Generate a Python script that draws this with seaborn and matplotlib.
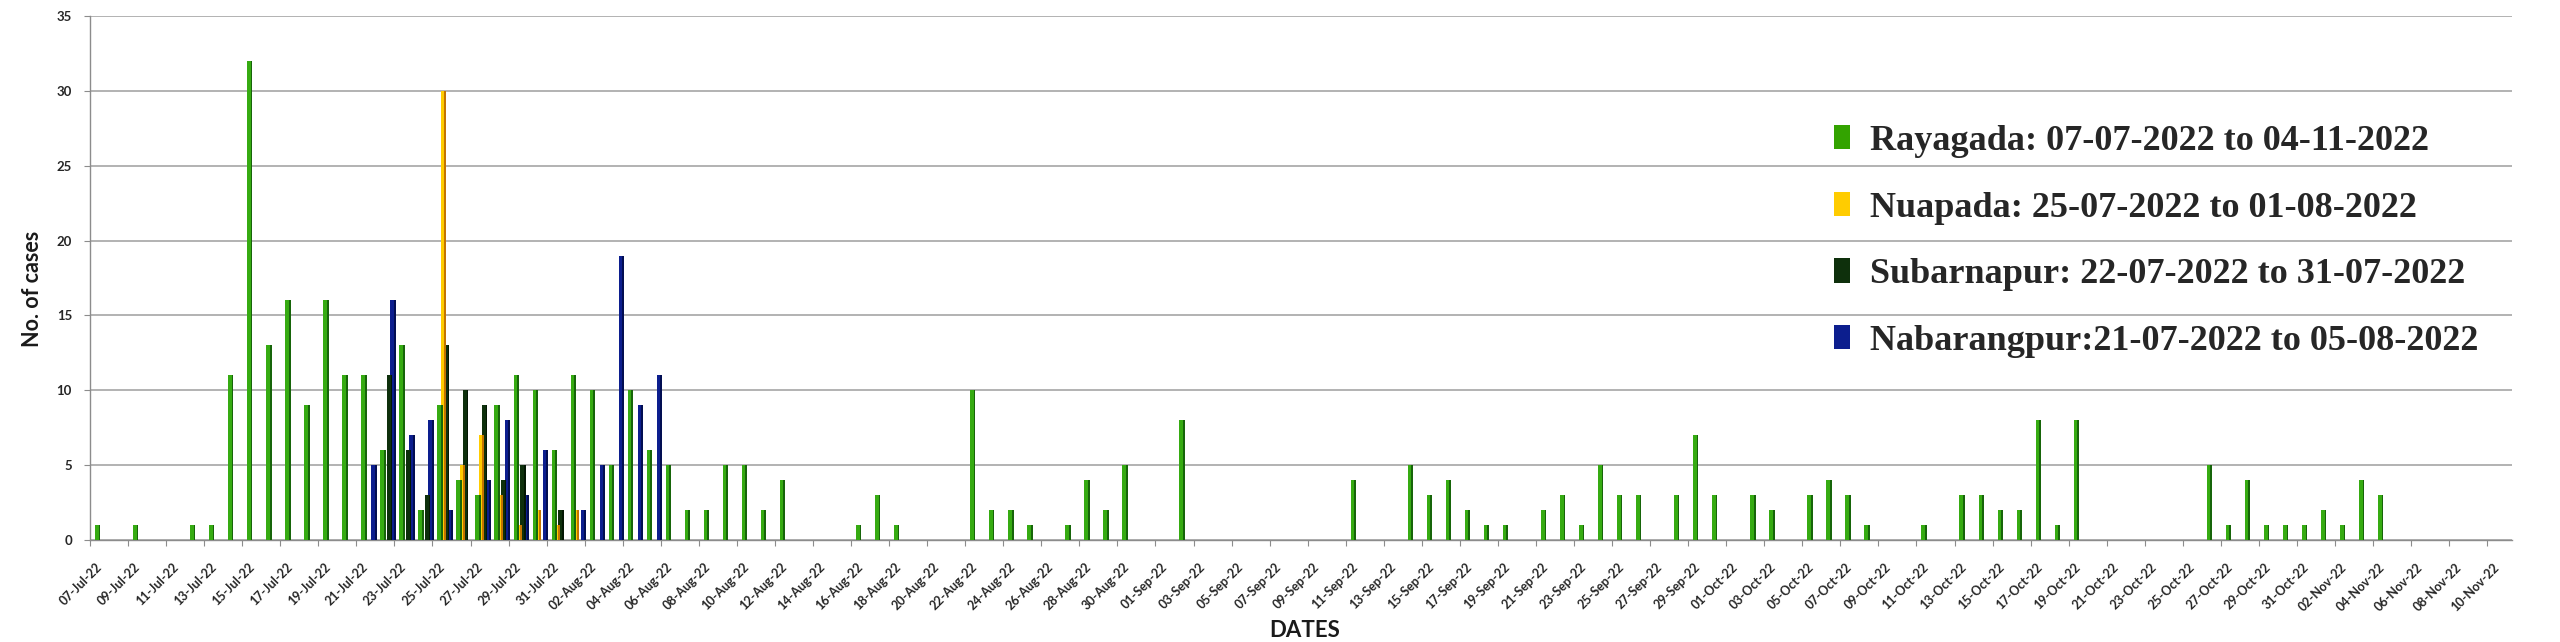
"""Daily case counts by district, Jul-Nov 2022 (grouped 3D-look bars)."""
import numpy as np
import pandas as pd
import matplotlib
matplotlib.use('Agg')
import matplotlib.pyplot as plt
import seaborn as sns
from matplotlib.patches import Patch
from matplotlib.transforms import ScaledTranslation

# Data
rayagada_dates = ['07-Jul-22', '09-Jul-22', '12-Jul-22', '13-Jul-22', '14-Jul-22', '15-Jul-22',
                  '16-Jul-22', '17-Jul-22', '18-Jul-22', '19-Jul-22', '20-Jul-22', '21-Jul-22',
                  '22-Jul-22', '23-Jul-22', '24-Jul-22', '25-Jul-22', '26-Jul-22', '27-Jul-22',
                  '28-Jul-22', '29-Jul-22', '30-Jul-22', '31-Jul-22',
                  '01-Aug-22', '02-Aug-22', '03-Aug-22', '04-Aug-22', '05-Aug-22', '06-Aug-22',
                  '07-Aug-22', '08-Aug-22', '09-Aug-22', '10-Aug-22', '11-Aug-22', '12-Aug-22',
                  '16-Aug-22', '17-Aug-22', '18-Aug-22', '22-Aug-22', '23-Aug-22', '24-Aug-22',
                  '25-Aug-22', '27-Aug-22', '28-Aug-22', '29-Aug-22', '30-Aug-22',
                  '02-Sep-22', '11-Sep-22', '14-Sep-22', '15-Sep-22', '16-Sep-22', '17-Sep-22',
                  '18-Sep-22', '19-Sep-22', '21-Sep-22', '22-Sep-22', '23-Sep-22', '24-Sep-22',
                  '25-Sep-22', '26-Sep-22', '28-Sep-22', '29-Sep-22', '30-Sep-22',
                  '02-Oct-22', '03-Oct-22', '05-Oct-22', '06-Oct-22', '07-Oct-22', '08-Oct-22',
                  '11-Oct-22', '13-Oct-22', '14-Oct-22', '15-Oct-22', '16-Oct-22', '17-Oct-22',
                  '18-Oct-22', '19-Oct-22', '26-Oct-22', '27-Oct-22', '28-Oct-22', '29-Oct-22',
                  '30-Oct-22', '31-Oct-22',
                  '01-Nov-22', '02-Nov-22', '03-Nov-22', '04-Nov-22']
rayagada_cases = [1, 1, 1, 1, 11, 32, 13, 16, 9, 16, 11, 11, 6, 13, 2, 9, 4, 3, 9, 11, 10, 6,
                  11, 10, 5, 10, 6, 5, 2, 2, 5, 5, 2, 4, 1, 3, 1, 10, 2, 2, 1, 1, 4, 2, 5,
                  8, 4, 5, 3, 4, 2, 1, 1, 2, 3, 1, 5, 3, 3, 3, 7, 3,
                  3, 2, 3, 4, 3, 1, 1, 3, 3, 2, 2, 8, 1, 8, 5, 1, 4, 1, 1, 1,
                  2, 1, 4, 3]

nuapada_dates = ['25-Jul-22', '26-Jul-22', '27-Jul-22', '28-Jul-22', '29-Jul-22', '30-Jul-22',
                 '31-Jul-22', '01-Aug-22']
nuapada_cases = [30, 5, 7, 3, 1, 2, 1, 2]

subarnapur_dates = ['22-Jul-22', '23-Jul-22', '24-Jul-22', '25-Jul-22', '26-Jul-22', '27-Jul-22',
                    '28-Jul-22', '29-Jul-22', '30-Jul-22', '31-Jul-22']
subarnapur_cases = [11, 6, 3, 13, 10, 9, 4, 5, 0, 2]

nabarangpur_dates = ['21-Jul-22', '22-Jul-22', '23-Jul-22', '24-Jul-22', '25-Jul-22', '26-Jul-22',
                     '27-Jul-22', '28-Jul-22', '29-Jul-22', '30-Jul-22', '31-Jul-22', '01-Aug-22',
                     '02-Aug-22', '03-Aug-22', '04-Aug-22', '05-Aug-22']
nabarangpur_cases = [5, 16, 7, 8, 2, 0, 4, 8, 3, 6, 0, 2, 5, 19, 9, 11]

labels = ['Rayagada: 07-07-2022 to 04-11-2022',
          'Nuapada: 25-07-2022 to 01-08-2022',
          'Subarnapur: 22-07-2022 to 31-07-2022',
          'Nabarangpur:21-07-2022 to 05-08-2022']

start = pd.Timestamp('2022-07-07')
all_days = pd.date_range(start, '2022-11-10', freq='D')

# front colour, side colour, position inside the day slot
styles = [('#36AB12', '#17650A', 0.40),
          ('#FFCC00', '#C47400', 0.57),
          ('#0E300C', '#031703', 0.75),
          ('#0C1E8E', '#020E52', 0.93)]


def draw_series(ax, dates, cases, front, side, offset, z):
    """Draw one district as bars with a darker side face."""
    days = (pd.to_datetime(dates, format='%d-%b-%y') - start).days.to_numpy()
    x = days + offset
    ax.bar(x - 0.045, cases, width=0.19, color=front, linewidth=0, zorder=z)
    ax.bar(x + 0.095, cases, width=0.09, color=side, linewidth=0, zorder=z)


sns.set_theme(style='white')
plt.rcParams['font.family'] = ['Lato', 'DejaVu Sans']

fig = plt.figure(figsize=(25.6, 6.42), dpi=100)
ax = fig.add_axes([90 / 2560, 1 - 540 / 642, 2422 / 2560, 524 / 642])

all_data = [(rayagada_dates, rayagada_cases), (nuapada_dates, nuapada_cases),
            (subarnapur_dates, subarnapur_cases), (nabarangpur_dates, nabarangpur_cases)]
for i, ((dates, cases), (front, side, offset)) in enumerate(zip(all_data, styles)):
    draw_series(ax, dates, cases, front, side, offset, z=10 - i)

ax.set_xlim(0, 127.3)
ax.set_ylim(0, 35)
ax.set_yticks(np.arange(0, 36, 5))
ax.yaxis.grid(True, color='#9E9E9E', linewidth=1.1)
ax.set_axisbelow(True)

ticks = np.arange(0, len(all_days), 2)
ax.set_xticks(ticks)
ax.set_xticklabels(all_days[::2].strftime('%d-%b-%y'), rotation=45, ha='right',
                   va='center', rotation_mode='anchor', fontsize=9, fontweight='bold')
ax.tick_params(axis='x', length=4, width=0.8, color='#8C8C8C', pad=14, bottom=True)
ax.tick_params(axis='y', length=4, width=0.8, color='#8C8C8C', pad=9, left=True,
               labelsize=9.5)
for lab in ax.get_yticklabels():
    lab.set_fontweight('bold')
for lab in ax.get_xticklabels():
    lab.set_transform(lab.get_transform() + ScaledTranslation(10 / 100, 0, fig.dpi_scale_trans))

sns.despine(ax=ax, top=True, right=True)
for side_name in ['left', 'bottom']:
    ax.spines[side_name].set_color('#8C8C8C')
    ax.spines[side_name].set_linewidth(1.0)

ax.set_ylabel('No. of cases', fontsize=15.5, fontweight='bold', color='#1A1A1A')
ax.yaxis.set_label_coords(-0.0195, 0.479)
ax.set_xlabel('DATES', fontsize=16, fontweight='bold', color='#1A1A1A')
ax.xaxis.set_label_coords(0.5017, -0.153)

handles = [Patch(facecolor=f, edgecolor='none') for f, _, _ in styles]
handles[0].set_facecolor('#33A300')
ax.legend(handles, labels, loc='upper left', bbox_to_anchor=(1834 / 2560, 1 - 125 / 642),
          bbox_transform=fig.transFigure, frameon=False, borderpad=0, borderaxespad=0,
          handlelength=0.45, handleheight=0.65, handletextpad=0.55, labelspacing=0.93,
          prop={'family': 'Liberation Serif', 'weight': 'bold', 'size': 26})

fig.savefig('out.png', dpi=100)
